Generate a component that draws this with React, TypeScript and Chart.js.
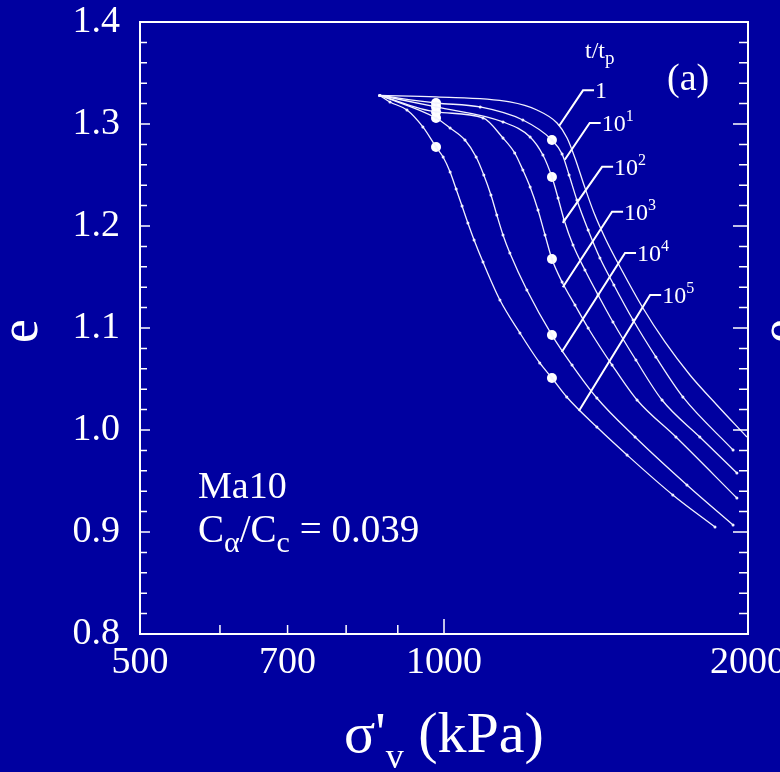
import React, { useEffect, useRef } from 'react';
import { Chart, registerables } from 'chart.js';

Chart.register(...registerables);

const BG = 'rgb(0,0,160)';
const FG = '#ffffff';
const LINE = '#f2f2ff';
const SERIF = '"Liberation Serif", "Times New Roman", Times, serif';

// ---- data: e vs sigma'v (kPa) for t/tp = 1 ... 10^5 ----
const sigma_1 = [864, 982, 1162, 1236, 1294, 1324, 1348, 1376, 1408, 1447, 1494, 1574, 1655, 1752, 1863, 1995];
const e_1 = [1.328, 1.3265, 1.3216, 1.3137, 1.301, 1.2863, 1.2667, 1.2402, 1.2127, 1.1863, 1.1598, 1.1196, 1.0863, 1.0539, 1.0245, 0.9931];

const sigma_10 = [864, 982, 1086, 1197, 1279, 1309, 1330, 1354, 1389, 1427, 1473, 1539, 1621, 1724, 1933];
const e_10 = [1.328, 1.3206, 1.3167, 1.3039, 1.2843, 1.2706, 1.25, 1.2255, 1.1961, 1.1686, 1.1422, 1.1078, 1.0716, 1.0324, 0.9804];

const sigma_100 = [864, 982, 1144, 1217, 1253, 1279, 1297, 1315, 1342, 1379, 1421, 1470, 1549, 1644, 1792, 1950];
const e_100 = [1.328, 1.3167, 1.302, 1.2873, 1.2696, 1.248, 1.2275, 1.2059, 1.1814, 1.1569, 1.1324, 1.1059, 1.0686, 1.0294, 0.9931, 0.9578];

const sigma_1000 = [864, 982, 1093, 1144, 1175, 1197, 1217, 1239, 1259, 1279, 1309, 1348, 1389, 1467, 1553, 1697, 1950];
const e_1000 = [1.328, 1.3118, 1.3059, 1.2863, 1.2716, 1.2549, 1.2382, 1.2157, 1.1912, 1.1676, 1.1451, 1.1225, 1.1, 1.0637, 1.0294, 0.9931, 0.9333];

const sigma_10000 = [864, 982, 1014, 1049, 1076, 1095, 1113, 1128, 1144, 1162, 1208, 1279, 1339, 1417, 1546, 1740, 1933];
const e_10000 = [1.328, 1.3059, 1.2961, 1.2843, 1.2676, 1.25, 1.2304, 1.2108, 1.1912, 1.1735, 1.1373, 1.0931, 1.0637, 1.0314, 0.9931, 0.9461, 0.9069];

const sigma_100000 = [864, 884, 919, 953, 982, 998, 1014, 1028, 1042, 1056, 1071, 1093, 1136, 1189, 1244, 1279, 1323, 1417, 1518, 1685, 1855];
const e_100000 = [1.328, 1.3216, 1.3137, 1.2971, 1.2775, 1.2676, 1.2529, 1.2363, 1.2196, 1.2029, 1.1863, 1.1647, 1.1275, 1.0951, 1.0657, 1.051, 1.0324, 1.0029, 0.9755, 0.9363, 0.9049];

// marked points
const dot_sigma = [982, 982, 982, 982, 982, 1279, 1279, 1279, 1279, 1279];
const dot_e = [1.3206, 1.3167, 1.3118, 1.3059, 1.2775, 1.2843, 1.248, 1.1676, 1.0931, 1.051];

// axes
const X_TICK_LABELS = [500, 700, 1000, 2000];
const X_MINOR_TICKS = [600, 700, 800, 900, 1000];
const Y_MIN = 0.8;
const Y_MAX = 1.4;

// leader labels (t/tp)
const LABEL_EXP = ['', '1', '2', '3', '4', '5'];
const LEADER_FROM_SIGMA = [1300, 1317, 1311, 1311, 1308, 1360];
const LEADER_FROM_E = [1.298, 1.265, 1.203, 1.14, 1.0765, 1.0186];
const LEADER_TO_SIGMA = [1373, 1394, 1434, 1467, 1511, 1600];
const LEADER_TO_E = [1.333, 1.301, 1.258, 1.214, 1.1735, 1.1324];

type Part = { t: string; size: number; dy?: number };

function font(size: number) {
  return `${size}px ${SERIF}`;
}

function richWidth(ctx: CanvasRenderingContext2D, parts: Part[]) {
  let w = 0;
  for (const p of parts) {
    ctx.font = font(p.size);
    w += ctx.measureText(p.t).width;
  }
  return w;
}

function drawRich(ctx: CanvasRenderingContext2D, x: number, y: number, parts: Part[]) {
  let cx = x;
  ctx.textAlign = 'left';
  ctx.textBaseline = 'alphabetic';
  for (const p of parts) {
    ctx.font = font(p.size);
    ctx.fillText(p.t, cx, y + (p.dy || 0));
    cx += ctx.measureText(p.t).width;
  }
}

const deco = {
  id: 'deco',
  beforeDraw(chart: any) {
    const { ctx, width, height } = chart;
    ctx.save();
    ctx.fillStyle = BG;
    ctx.fillRect(0, 0, width, height);
    ctx.restore();
  },
  afterDraw(chart: any) {
    const { ctx, chartArea: a, scales } = chart;
    const xs = scales.x;
    const ys = scales.y;
    ctx.save();
    ctx.strokeStyle = FG;
    ctx.fillStyle = FG;
    ctx.lineWidth = 2;
    ctx.strokeRect(a.left, a.top, a.right - a.left, a.bottom - a.top);

    // y ticks (inside, left and right)
    ctx.lineWidth = 1.5;
    ctx.beginPath();
    for (let i = 0; i <= 30; i++) {
      const v = Y_MIN + i * 0.02;
      const y = ys.getPixelForValue(v);
      const major = i % 5 === 0;
      ctx.moveTo(a.left, y);
      ctx.lineTo(a.left + (major ? 10 : 7), y);
      ctx.moveTo(a.right, y);
      ctx.lineTo(a.right - (major ? 15 : 9), y);
    }
    // x ticks (inside, bottom)
    for (const v of X_MINOR_TICKS) {
      const x = xs.getPixelForValue(v);
      ctx.moveTo(x, a.bottom);
      ctx.lineTo(x, a.bottom - (v === 1000 ? 15 : 9));
    }
    ctx.stroke();

    // leader lines and labels
    ctx.lineWidth = 2;
    for (let i = 0; i < LABEL_EXP.length; i++) {
      const x0 = xs.getPixelForValue(LEADER_FROM_SIGMA[i]);
      const y0 = ys.getPixelForValue(LEADER_FROM_E[i]);
      const x1 = xs.getPixelForValue(LEADER_TO_SIGMA[i]);
      const y1 = ys.getPixelForValue(LEADER_TO_E[i]);
      ctx.beginPath();
      ctx.moveTo(x0, y0);
      ctx.lineTo(x1, y1);
      ctx.lineTo(x1 + 11, y1);
      ctx.stroke();
      const parts: Part[] = i === 0
        ? [{ t: '1', size: 24 }]
        : [{ t: '10', size: 24 }, { t: LABEL_EXP[i], size: 16, dy: -10 }];
      drawRich(ctx, x1 + 12, y1 + 8, parts);
    }

    // t/tp header
    drawRich(ctx, 585, 58, [{ t: 't/t', size: 24 }, { t: 'p', size: 19, dy: 6 }]);
    // (a)
    drawRich(ctx, 667, 90, [{ t: '(a)', size: 38 }]);

    // Ma10 and ratio
    drawRich(ctx, 198, 498, [{ t: 'Ma10', size: 38 }]);
    drawRich(ctx, 198, 542, [
      { t: 'C', size: 39 },
      { t: '\u03b1', size: 30, dy: 10 },
      { t: '/C', size: 39 },
      { t: 'c', size: 30, dy: 10 },
      { t: ' = 0.039', size: 39 },
    ]);

    // x axis title
    const xt: Part[] = [
      { t: "\u03c3'", size: 58 },
      { t: 'v', size: 36, dy: 16 },
      { t: ' (kPa)', size: 58 },
    ];
    const w = richWidth(ctx, xt);
    drawRich(ctx, (a.left + a.right) / 2 - w / 2, 752, xt);

    // y axis title (rotated)
    ctx.font = font(54);
    ctx.textAlign = 'center';
    ctx.textBaseline = 'middle';
    ctx.save();
    ctx.translate(23, 331);
    ctx.rotate(-Math.PI / 2);
    ctx.fillText('e', 0, 0);
    ctx.restore();
    // neighbouring panel's axis title, cut by the edge
    ctx.save();
    ctx.translate(783, 331);
    ctx.rotate(-Math.PI / 2);
    ctx.fillText('e', 0, 0);
    ctx.restore();

    ctx.restore();
  },
};

function curve(label: string, sig: number[], e: number[], dotted: boolean) {
  return {
    label,
    data: sig.map((s, i) => ({ x: s, y: e[i] })),
    borderColor: LINE,
    backgroundColor: LINE,
    borderWidth: 1.3,
    pointRadius: dotted ? 1.5 : 0,
    pointBorderWidth: 0,
    cubicInterpolationMode: 'monotone' as const,
    fill: false,
  };
}

export default function App() {
  const ref = useRef<HTMLCanvasElement | null>(null);

  useEffect(() => {
    document.body.style.margin = '0';
    document.body.style.background = BG;
    const canvas = ref.current;
    if (!canvas) return;
    const datasets: any[] = [
      curve('1', sigma_1, e_1, false),
      curve('10^1', sigma_10, e_10, true),
      curve('10^2', sigma_100, e_100, true),
      curve('10^3', sigma_1000, e_1000, true),
      curve('10^4', sigma_10000, e_10000, true),
      curve('10^5', sigma_100000, e_100000, true),
      {
        label: 'markers',
        data: dot_sigma.map((s, i) => ({ x: s, y: dot_e[i] })),
        showLine: false,
        pointRadius: 5,
        pointBackgroundColor: FG,
        pointBorderColor: FG,
        pointBorderWidth: 0,
      },
    ];
    const chart = new Chart(canvas, {
      type: 'line',
      data: { datasets },
      options: {
        responsive: false,
        animation: false,
        devicePixelRatio: 1,
        events: [],
        layout: { padding: { top: 22, right: 32, left: 0, bottom: 0 } },
        plugins: {
          legend: { display: false },
          tooltip: { enabled: false },
          title: { display: false },
        },
        scales: {
          x: {
            type: 'logarithmic',
            min: 500,
            max: 2000,
            grid: { display: false, drawTicks: false },
            border: { display: false },
            afterBuildTicks: (s: any) => {
              s.ticks = X_TICK_LABELS.map((v) => ({ value: v }));
            },
            afterFit: (s: any) => {
              s.height = 138;
              s.paddingLeft = 0;
              s.paddingRight = 0;
            },
            ticks: {
              color: FG,
              font: { family: SERIF, size: 38 },
              padding: 6,
              autoSkip: false,
              maxRotation: 0,
              minRotation: 0,
              callback: (v: any) => String(v),
            },
          },
          y: {
            type: 'linear',
            min: Y_MIN,
            max: Y_MAX,
            grid: { display: false, drawTicks: false },
            border: { display: false },
            afterFit: (s: any) => {
              s.width = 140;
              s.paddingTop = 0;
              s.paddingBottom = 0;
            },
            ticks: {
              stepSize: 0.1,
              color: FG,
              font: { family: SERIF, size: 38 },
              padding: 20,
              callback: (v: any) => Number(v).toFixed(1),
            },
          },
        },
      } as any,
      plugins: [deco],
    });
    return () => chart.destroy();
  }, []);

  return (
    <div style={{ position: 'fixed', left: 0, top: 0, width: 780, height: 772, background: BG }}>
      <canvas ref={ref} width={780} height={772} style={{ display: 'block' }} />
    </div>
  );
}
